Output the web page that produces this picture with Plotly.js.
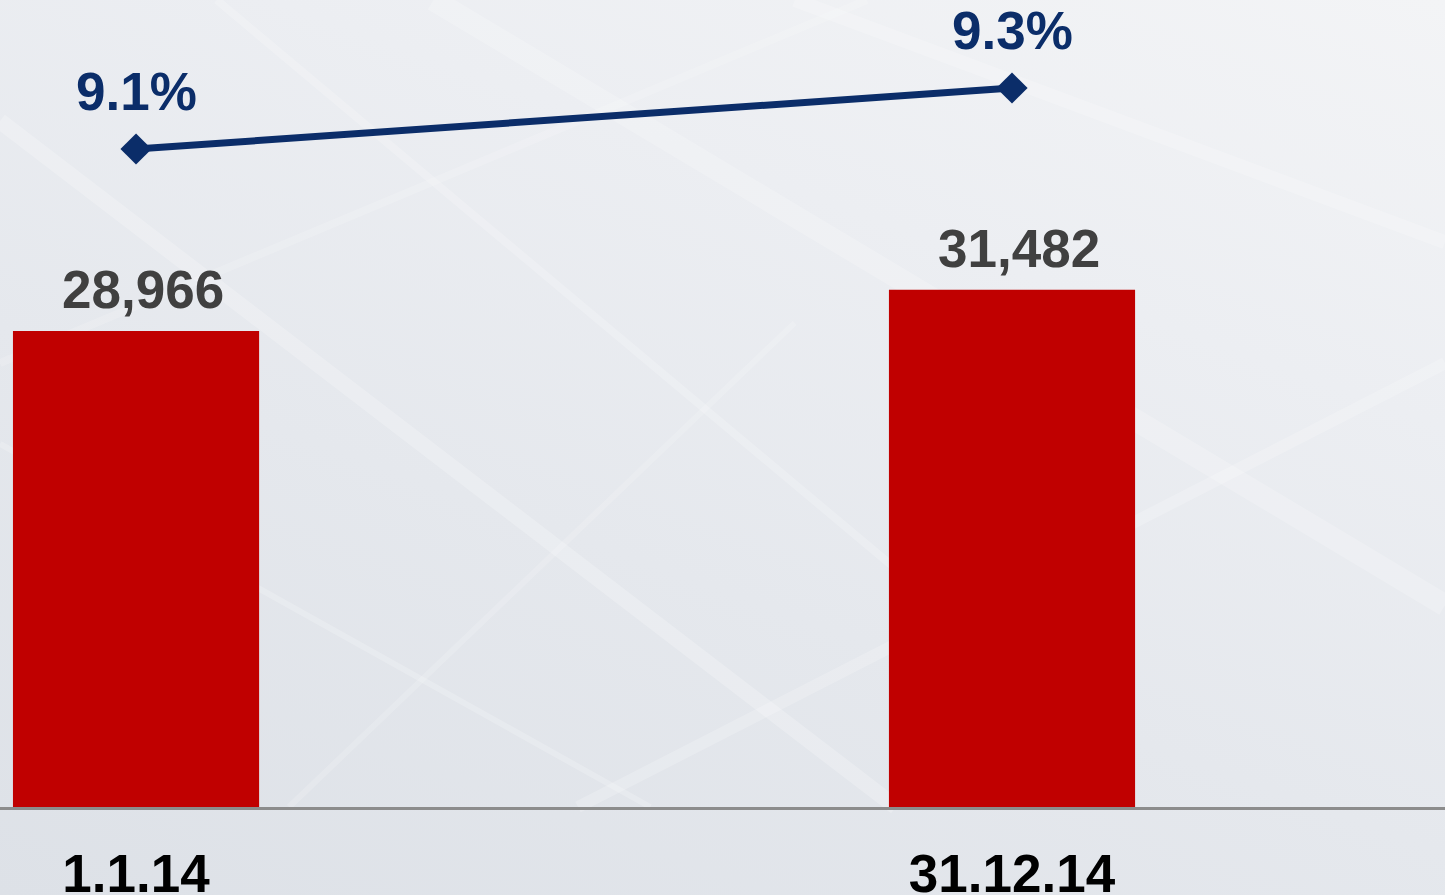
<!DOCTYPE html>
<html>
<head>
<meta charset="utf-8">
<script src="https://cdn.plot.ly/plotly-3.0.1.min.js"></script>
<style>
  html, body { margin: 0; padding: 0; }
  body {
    width: 1445px; height: 895px; overflow: hidden;
    background: linear-gradient(20deg, #dde1e7 0%, #e5e8ed 40%, #eceef2 70%, #f3f4f6 100%);
  }
  #chart { width: 1445px; height: 895px; }
</style>
</head>
<body>
<div id="chart"></div>
<script>
// ---- data ----
const categories = ["1.1.14", "31.12.14"];
const barValues = [28966, 31482];
const barLabels = ["28,966", "31,482"];
const ratioValues = [9.1, 9.3];
const ratioLabels = ["9.1%", "9.3%"];

// ---- styles ----
const barColor = "#c00000";
const lineColor = "#0b2d69";
const labelGray = "#404040";
const fontFamily = "Liberation Sans, Arial, sans-serif";

const bars = {
  type: "bar",
  x: categories,
  y: barValues,
  width: 0.281,
  marker: { color: barColor },
  hoverinfo: "skip",
  showlegend: false
};

const line = {
  type: "scatter",
  mode: "lines+markers",
  x: categories,
  y: ratioValues,
  yaxis: "y2",
  line: { color: lineColor, width: 7 },
  marker: { symbol: "diamond", size: 24, color: lineColor },
  hoverinfo: "skip",
  showlegend: false
};

const annotations = [];
categories.forEach((c, i) => {
  annotations.push({
    x: c, y: barValues[i], xref: "x", yref: "y",
    text: barLabels[i], showarrow: false,
    xanchor: "center", yanchor: "bottom", xshift: 7, yshift: 10,
    font: { family: fontFamily, size: 53, color: labelGray, weight: 700 }
  });
  annotations.push({
    x: c, y: ratioValues[i], xref: "x", yref: "y2",
    text: ratioLabels[i], showarrow: false,
    xanchor: "center", yanchor: "bottom", yshift: 26,
    font: { family: fontFamily, size: 53, color: lineColor, weight: 700 }
  });
});

// decorative background streaks
const streaks = [
  [0.00, 0.85, 0.62, 0.00, 16, 0.22],
  [0.15, 1.00, 0.75, 0.10, 8, 0.20],
  [0.30, 1.00, 1.00, 0.25, 22, 0.20],
  [0.00, 0.45, 0.45, 0.00, 6, 0.20],
  [0.40, 0.00, 1.00, 0.55, 12, 0.20],
  [0.00, 0.55, 0.60, 1.00, 8, 0.16],
  [0.55, 1.00, 1.00, 0.70, 14, 0.20],
  [0.20, 0.00, 0.55, 0.60, 6, 0.16]
];
const shapes = streaks.map(s => ({
  type: "line", xref: "paper", yref: "paper", layer: "below",
  x0: s[0], y0: s[1], x1: s[2], y1: s[3],
  line: { color: "#ffffff", width: s[4] }, opacity: s[5]
}));

const layout = {
  width: 1445, height: 895,
  margin: { l: 0, r: 0, t: 0, b: 88, pad: 0 },
  paper_bgcolor: "rgba(0,0,0,0)",
  plot_bgcolor: "rgba(0,0,0,0)",
  showlegend: false,
  xaxis: {
    type: "category",
    range: [-0.1553, 1.4943],
    showgrid: false, zeroline: false,
    showline: true, linecolor: "#8c8c8c", linewidth: 3,
    ticks: "", ticklabelstandoff: 18,
    tickfont: { family: fontFamily, size: 53, color: "#000000", weight: 700 },
    fixedrange: true
  },
  yaxis: {
    range: [0, 49120],
    showgrid: false, zeroline: false, showline: false,
    showticklabels: false, ticks: "", fixedrange: true
  },
  yaxis2: {
    overlaying: "y", side: "right",
    range: [6.9426, 9.5885],
    showgrid: false, zeroline: false, showline: false,
    showticklabels: false, ticks: "", fixedrange: true
  },
  annotations: annotations,
  shapes: shapes
};

Plotly.newPlot("chart", [bars, line], layout, { displayModeBar: false, staticPlot: true });
</script>
</body>
</html>
